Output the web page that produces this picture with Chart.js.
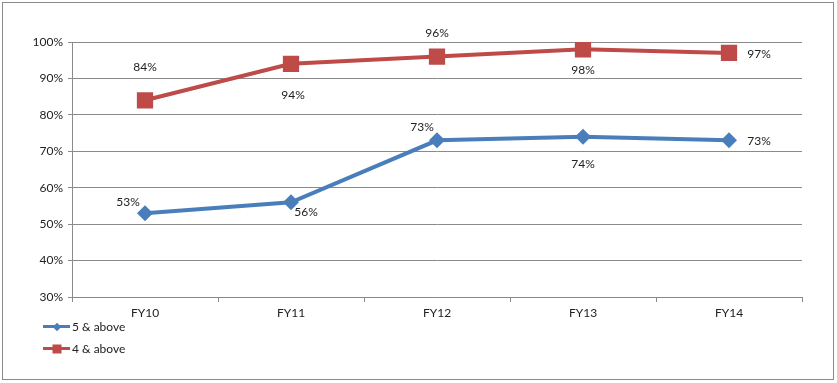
<!DOCTYPE html>
<html lang="en">
<head>
    <meta charset="UTF-8">
    <title>FY10 - FY14</title>
    <script src="https://cdn.jsdelivr.net/npm/chart.js"></script>
    <style>
        body { margin: 0; background: #fff; font-family: Lato, sans-serif; }
        #wrap { position: relative; width: 837px; height: 383px; }
        #frame { position: absolute; left: 2px; top: 2px; width: 830px; height: 376px; border: 1px solid #8a8a8a; pointer-events: none; }
        .legend { position: absolute; left: 43px; font-size: 12px; color: #222; display: flex; align-items: center; }
        .legend .line { position: relative; width: 27px; height: 3px; margin-right: 2px; }
        .legend .mark { position: absolute; left: 50%; top: 50%; }
        .diamond { width: 6px; height: 6px; transform: translate(-50%, -50%) rotate(45deg); }
        .square { width: 9px; height: 9px; transform: translate(-50%, -50%); }
    </style>
    <script>
        const categories = ["FY10", "FY11", "FY12", "FY13", "FY14"];
        const fiveAbove = [53, 56, 73, 74, 73];
        const fourAbove = [84, 94, 96, 98, 97];
        const yTicks = [30, 40, 50, 60, 70, 80, 90, 100];

        // where each value label sits relative to its point (dx, dy in px)
        const fiveLabelOffsets = [[-17, -11], [15, 10], [-15, -13], [0, 27], [30, 1]];
        const fourLabelOffsets = [[0, -33], [2, 31], [0, -23], [0, 21], [30, 1]];

        const blue = "#4a7ebb";
        const red = "#be4b48";
        const font = "Lato, sans-serif";

        const valueLabels = {
            id: "valueLabels",
            afterDatasetsDraw(chart) {
                const ctx = chart.ctx;
                ctx.save();
                ctx.font = "12px " + font;
                ctx.fillStyle = "#222";
                ctx.textAlign = "center";
                ctx.textBaseline = "middle";
                chart.data.datasets.forEach((ds, i) => {
                    const meta = chart.getDatasetMeta(i);
                    meta.data.forEach((pt, j) => {
                        const off = ds.labelOffsets[j];
                        ctx.fillText(ds.data[j] + "%", pt.x + off[0], pt.y + off[1]);
                    });
                });
                ctx.restore();
            }
        };

        window.onload = function() {
            const ctx = document.getElementById("chart").getContext("2d");
            new Chart(ctx, {
                type: "line",
                data: {
                    labels: categories,
                    datasets: [{
                        label: "5 & above",
                        data: fiveAbove,
                        labelOffsets: fiveLabelOffsets,
                        borderColor: blue,
                        backgroundColor: blue,
                        borderWidth: 4,
                        pointStyle: "rectRot",
                        pointRadius: 8,
                        pointBorderWidth: 0,
                        tension: 0
                    }, {
                        label: "4 & above",
                        data: fourAbove,
                        labelOffsets: fourLabelOffsets,
                        borderColor: red,
                        backgroundColor: red,
                        borderWidth: 4,
                        pointStyle: "rect",
                        pointRadius: 11.5,
                        pointBorderWidth: 0,
                        tension: 0
                    }]
                },
                options: {
                    responsive: false,
                    animation: false,
                    layout: { padding: { left: 0, right: 35, top: 42, bottom: 56 } },
                    plugins: {
                        legend: { display: false },
                        tooltip: { enabled: false }
                    },
                    scales: {
                        x: {
                            offset: true,
                            afterFit: s => { s.height = 30; },
                            grid: { drawOnChartArea: false, drawTicks: true, tickLength: 5, color: "#8a8a8a", offset: true },
                            border: { color: "#8a8a8a" },
                            ticks: { color: "#222", font: { family: font, size: 12 }, padding: 4, maxRotation: 0 }
                        },
                        y: {
                            min: 30,
                            max: 100,
                            afterFit: s => { s.width = 72; },
                            afterBuildTicks: s => { s.ticks = yTicks.map(v => ({ value: v })); },
                            grid: { color: "#8a8a8a", tickLength: 4 },
                            border: { color: "#8a8a8a" },
                            ticks: {
                                color: "#222",
                                font: { family: font, size: 12 },
                                padding: 5,
                                callback: v => v + "%"
                            }
                        }
                    }
                },
                plugins: [valueLabels]
            });
        };
    </script>
</head>
<body>
    <div id="wrap">
        <canvas id="chart" width="837" height="383"></canvas>
        <div id="frame"></div>
        <div class="legend" style="top: 319px;">
            <span class="line" style="background: #4a7ebb;"><span class="mark diamond" style="background: #4a7ebb;"></span></span>5 &amp; above
        </div>
        <div class="legend" style="top: 341px;">
            <span class="line" style="background: #be4b48;"><span class="mark square" style="background: #be4b48;"></span></span>4 &amp; above
        </div>
    </div>
</body>
</html>
